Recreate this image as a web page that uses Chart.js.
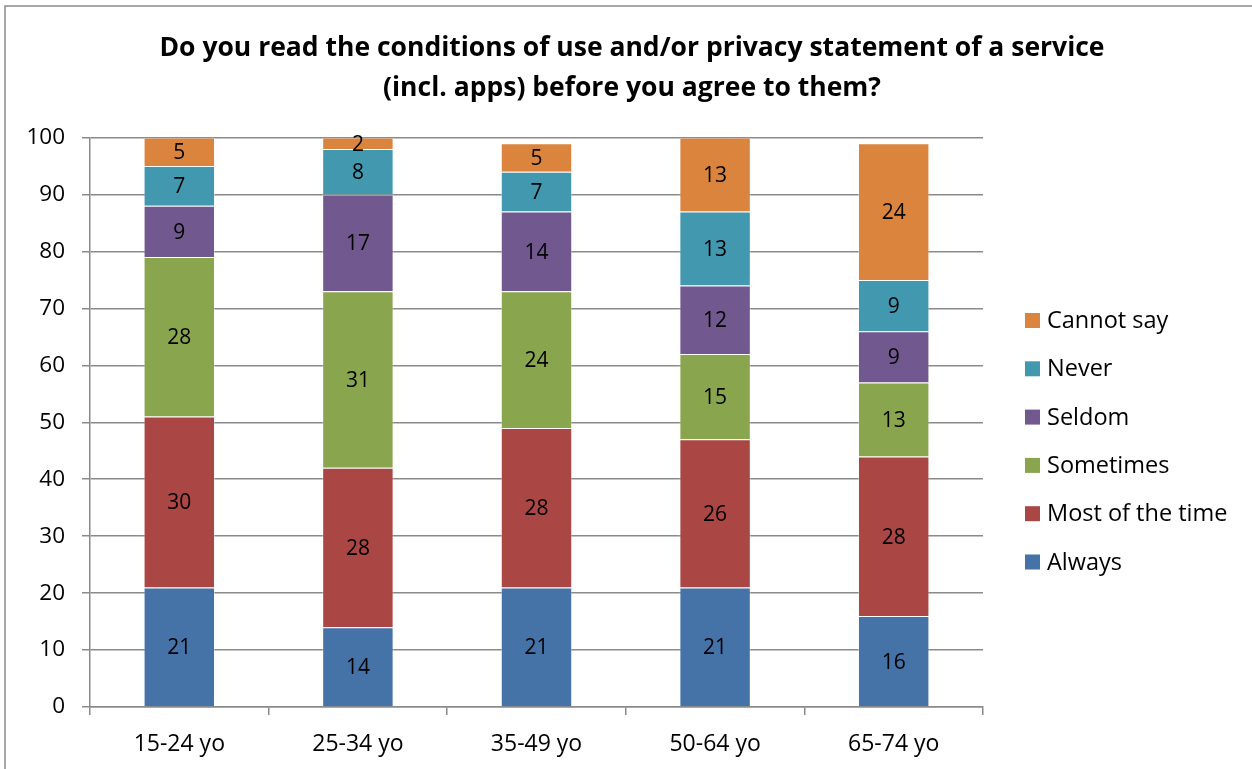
<!DOCTYPE html>
<html>
<head>
<meta charset="utf-8">
<script src="https://cdn.jsdelivr.net/npm/chart.js@4"></script>
<style>
  html, body { margin: 0; padding: 0; background: #fff; }
  #wrap { width: 1252px; height: 769px; position: relative; }
</style>
</head>
<body>
<div id="wrap"><canvas id="chart"></canvas></div>
<script>
const AGE_GROUPS = ['15-24 yo', '25-34 yo', '35-49 yo', '50-64 yo', '65-74 yo'];

const ALWAYS = [21, 14, 21, 21, 16];
const MOST_OF_THE_TIME = [30, 28, 28, 26, 28];
const SOMETIMES = [28, 31, 24, 15, 13];
const SELDOM = [9, 17, 14, 12, 9];
const NEVER = [7, 8, 7, 13, 9];
const CANNOT_SAY = [5, 2, 5, 13, 24];

const Y_TICKS = [0, 10, 20, 30, 40, 50, 60, 70, 80, 90, 100];

const TITLE_LINES = [
  'Do you read the conditions of use and/or privacy statement of a service',
  '(incl. apps) before you agree to them?',
];

const FONT = "'Open Sans', Lato, sans-serif";

const SERIES = [
  { label: 'Always', data: ALWAYS, color: '#4572a7' },
  { label: 'Most of the time', data: MOST_OF_THE_TIME, color: '#aa4643' },
  { label: 'Sometimes', data: SOMETIMES, color: '#89a54e' },
  { label: 'Seldom', data: SELDOM, color: '#71588f' },
  { label: 'Never', data: NEVER, color: '#4198af' },
  { label: 'Cannot say', data: CANNOT_SAY, color: '#db843d' },
];

// background, outer frame and the two-line heading centred on the page
const framePlugin = {
  id: 'frame',
  beforeDraw(chart) {
    const { ctx } = chart;
    ctx.save();
    ctx.fillStyle = '#fff';
    ctx.fillRect(0, 0, chart.width, chart.height);
    ctx.strokeStyle = '#8a8a8a';
    ctx.lineWidth = 1.5;
    ctx.strokeRect(5, 6, chart.width + 20, chart.height + 20);

    ctx.fillStyle = '#000';
    ctx.font = `bold 26.5px ${FONT}`;
    ctx.textAlign = 'center';
    ctx.textBaseline = 'middle';
    TITLE_LINES.forEach((line, i) => ctx.fillText(line, 632, 48 + i * 40));
    ctx.restore();
  },
};

// value written in the middle of each segment
const segmentLabels = {
  id: 'segmentLabels',
  afterDatasetsDraw(chart) {
    const { ctx } = chart;
    ctx.save();
    ctx.font = `21px ${FONT}`;
    ctx.fillStyle = '#000';
    ctx.textAlign = 'center';
    ctx.textBaseline = 'middle';
    chart.data.datasets.forEach((ds, i) => {
      chart.getDatasetMeta(i).data.forEach((bar, j) => {
        const mid = (bar.y + bar.base) / 2;
        ctx.fillText(String(ds.data[j]), bar.x, mid + 1.5);
      });
    });
    ctx.restore();
  },
};

// legend on the right, top entry is the last series
const sideLegend = {
  id: 'sideLegend',
  afterDraw(chart) {
    const { ctx } = chart;
    const items = chart.data.datasets.slice().reverse();
    ctx.save();
    ctx.font = `23.5px ${FONT}`;
    ctx.textBaseline = 'middle';
    ctx.textAlign = 'left';
    items.forEach((ds, i) => {
      const y = 320 + i * 48.3;
      ctx.fillStyle = ds.backgroundColor;
      ctx.fillRect(1025, y - 7, 15, 15);
      ctx.fillStyle = '#000';
      ctx.fillText(ds.label, 1047, y + 1.5);
    });
    ctx.restore();
  },
};

new Chart(document.getElementById('chart'), {
  type: 'bar',
  data: {
    labels: AGE_GROUPS,
    datasets: SERIES.map((s) => ({
      label: s.label,
      data: s.data,
      backgroundColor: s.color,
      borderColor: 'rgba(255,255,255,0.35)',
      borderWidth: 1,
      barPercentage: 0.4,
      categoryPercentage: 1,
    })),
  },
  options: {
    responsive: true,
    maintainAspectRatio: false,
    animation: false,
    layout: { padding: { top: 137.5, left: 10, right: 269, bottom: 10 } },
    plugins: {
      legend: { display: false },
      tooltip: { enabled: false },
      title: { display: false },
    },
    scales: {
      x: {
        stacked: true,
        grid: {
          offset: true,
          drawOnChartArea: false,
          drawTicks: true,
          tickLength: 8,
          color: '#8a8a8a',
          lineWidth: 1.5,
        },
        border: { color: '#8a8a8a', width: 1.5 },
        ticks: { color: '#000', font: { family: FONT, size: 23 }, padding: 16 },
        afterFit: (scale) => { scale.height = 52; },
      },
      y: {
        stacked: true,
        min: 0,
        max: 100,
        afterBuildTicks: (scale) => { scale.ticks = Y_TICKS.map((v) => ({ value: v })); },
        grid: { color: '#8a8a8a', lineWidth: 1.5, tickLength: 8 },
        border: { color: '#8a8a8a', width: 1.5 },
        ticks: { color: '#000', font: { family: FONT, size: 22.5 }, padding: 17 },
        afterFit: (scale) => { scale.width = 80; },
      },
    },
  },
  plugins: [framePlugin, segmentLabels, sideLegend],
});
</script>
</body>
</html>
